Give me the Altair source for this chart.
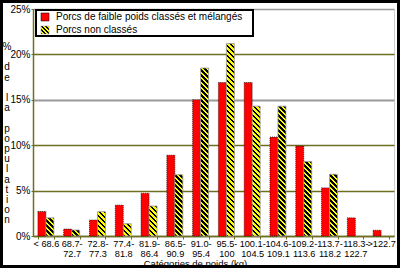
import altair as alt
import pandas as pd

categories = ["< 68.6", "68.7-|72.7", "72.8-|77.3", "77.4-|81.8", "81.9-|86.4",
              "86.5-|90.9", "91.0-|95.4", "95.5-|100", "100.1-|104.5",
              "104.6-|109.1", "109.2-|113.6", "113.7-|118.2", "118.3-|122.7", ">122.7"]
series = ["Porcs de faible poids classés et mélangés", "Porcs non classés"]
red_values = [2.7, 0.77, 1.76, 3.4, 4.7, 8.9, 15.0, 16.9, 16.9, 10.9, 9.9, 5.3, 2.0, 0.63]
hatch_values = [2.0, 0.66, 2.68, 1.36, 3.3, 6.75, 18.5, 21.2, 14.3, 14.3, 8.2, 6.8, 0.0, 0.0]
y_ticks = [0, 5, 10, 15, 20, 25]
x_title = "Catégories de poids (kg)"
y_title = "% de la population"

W, H = 361, 227
YMAX = 25
OLIVE = "#6e6e20"
FONT = "Liberation Sans"

rows = []
for c, a, b in zip(categories, red_values, hatch_values):
    rows.append({"cat": c, "series": series[0], "value": a})
    rows.append({"cat": c, "series": series[1], "value": b})
df = pd.DataFrame(rows)
one = pd.DataFrame({"k": [0]})


def hatch(w, h, period=5.0):
    total = w + h
    step = period / total
    stops = []
    t = 0.0
    while t < 1.0:
        t2 = min(t + step / 2, 1.0)
        t3 = min(t + step, 1.0)
        stops += [{"offset": round(t, 5), "color": "#000000"},
                  {"offset": round(t2, 5), "color": "#000000"},
                  {"offset": round(t2, 5), "color": "#ffff00"},
                  {"offset": round(t3, 5), "color": "#ffff00"}]
        t += step
    k = (w + h) / (w * w + h * h)
    return {"gradient": "linear", "x1": 0, "y1": 1,
            "x2": round(k * w, 5), "y2": round(1 - k * h, 5), "stops": stops}


x_enc = alt.X("cat:N", sort=categories,
              scale=alt.Scale(domain=categories, paddingInner=0.38, paddingOuter=0.19),
              axis=alt.Axis(title=x_title, labelExpr="split(datum.label, '|')",
                            labelAngle=0, labelFontSize=9.2, labelLineHeight=9.6,
                            labelFont=FONT, labelColor="black", labelPadding=0.5,
                            labelBaseline="top",
                            tickBand="extent", tickSize=3, tickColor=OLIVE,
                            domainColor=OLIVE, domainWidth=1.5, grid=False,
                            titleFont=FONT, titleFontSize=9.5, titleFontWeight="normal",
                            titleColor="black", titleX=162, titleY=27.8,
                            titleAlign="center", titleBaseline="middle",
                            titleAnchor="start"))
xo_enc = alt.XOffset("series:N", scale=alt.Scale(domain=series, paddingInner=0, paddingOuter=0))
y_enc = alt.Y("value:Q", scale=alt.Scale(domain=[0, YMAX], nice=False),
              axis=alt.Axis(values=y_ticks, labelExpr="datum.value + '%'",
                            labelFontSize=10, labelFont=FONT, labelColor="black",
                            labelPadding=1, tickSize=2, tickColor=OLIVE,
                            domainColor=OLIVE, domainWidth=1.5,
                            grid=True,
                            gridColor=alt.condition("datum.value == 15 || datum.value == 25",
                                                    alt.value("#9a9a9a"), alt.value(OLIVE)),
                            gridWidth=alt.condition("datum.value == 15",
                                                    alt.value(2), alt.value(1.3)),
                            title=None))

base = alt.Chart(df)

red_layer = base.transform_filter(alt.datum.series == series[0]).mark_bar(
    fill="#ff0000", stroke="#000000", strokeWidth=0.7, strokeDash=[1, 1]
).encode(x=x_enc, xOffset=xo_enc, y=y_enc)

layers = [red_layer]
band = W / 14 * 0.62 / 2
for c, v in zip(categories, hatch_values):
    if v <= 0:
        continue
    g = hatch(band, v * H / YMAX)
    layers.append(
        base.transform_filter((alt.datum.series == series[1]) & (alt.datum.cat == c))
        .mark_bar(fill=g, stroke="#9a9a9a", strokeWidth=0.8)
        .encode(x=x_enc, xOffset=xo_enc, y=y_enc)
    )

# vertical, one-letter-per-line y title (a blank line between words)
LH = 10.2
title_layers = []
line_idx = 0
for word in y_title.split(" "):
    title_layers.append(
        alt.Chart(one).mark_text(align="center", baseline="top", font=FONT, fontSize=10,
                                 lineHeight=LH, color="black").encode(
            x=alt.value(-26), y=alt.value(33 + line_idx * LH), text=alt.value(list(word)))
    )
    line_idx += len(word) + 1

# legend (manual)
leg_box = alt.Chart(one).mark_rect(fill="white", stroke="black", strokeWidth=2).encode(
    x=alt.value(3), x2=alt.value(220), y=alt.value(1), y2=alt.value(27))
leg_red = alt.Chart(one).mark_rect(fill="#ff0000", stroke="#000", strokeWidth=0.5).encode(
    x=alt.value(8), x2=alt.value(16), y=alt.value(4), y2=alt.value(12))
leg_hatch = alt.Chart(one).mark_rect(fill=hatch(8, 8, 4.0), stroke="#9a9a9a", strokeWidth=0.5).encode(
    x=alt.value(8), x2=alt.value(16), y=alt.value(17), y2=alt.value(25))
leg_t1 = alt.Chart(one).mark_text(align="left", baseline="middle", font=FONT, fontSize=10,
                                  color="black").encode(
    x=alt.value(23), y=alt.value(8), text=alt.value(series[0]))
leg_t2 = alt.Chart(one).mark_text(align="left", baseline="middle", font=FONT, fontSize=10,
                                  color="black").encode(
    x=alt.value(23), y=alt.value(21), text=alt.value(series[1]))

frame = alt.Chart(one).mark_rect(fill=None, stroke="black", strokeWidth=6).encode(
    x=alt.value(-33), x2=alt.value(367), y=alt.value(-9), y2=alt.value(259))

chart = alt.layer(*layers, *title_layers, leg_box, leg_red, leg_hatch, leg_t1, leg_t2,
                  frame).properties(
    width=W, height=H,
    autosize=alt.AutoSizeParams(type="none"),
    padding={"left": 33, "top": 9, "right": 6, "bottom": 32},
).configure(background="white").configure_view(
    stroke="#a0a0a0", strokeDash=[1, 1], strokeWidth=1
)

chart.save("out.html", embed_options={"renderer": "svg", "actions": False})
